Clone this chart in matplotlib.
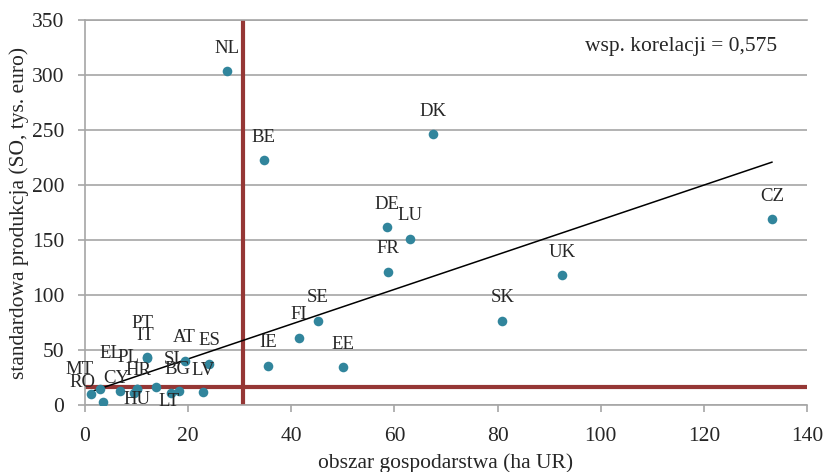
import numpy as np
import matplotlib.pyplot as plt

# ======================
# DATA
# ======================
countries = ["NL", "DK", "BE", "DE", "LU", "FR", "CZ", "UK", "SK", "SE", "FI", "IE", "EE",
             "MT", "RO", "CY", "EL", "HR", "PL", "HU", "PT", "IT", "SI", "AT", "ES", "BG", "LT", "LV"]
area = [27.5, 67.5, 34.7, 58.6, 63.0, 58.8, 133.2, 92.5, 80.9, 45.2, 41.5, 35.5, 50.0,
        1.1, 3.4, 3.0, 6.7, 10.1, 10.0, 9.5, 12.0, 12.0, 13.8, 19.3, 24.1, 18.2, 16.6, 22.9]
output = [303.6, 246.0, 222.7, 161.8, 151.0, 121.0, 169.0, 118.0, 76.4, 76.4, 61.0, 35.5, 34.5,
          10.0, 3.0, 14.3, 12.4, 14.5, 15.0, 10.6, 43.5, 43.0, 16.0, 40.3, 37.3, 13.0, 10.6, 11.5]

MEAN_AREA = 30.6
MEAN_OUTPUT = 16.4
# linear trend as shown on the chart
TREND_SLOPE = 1.58
TREND_INTERCEPT = 10.3
CORR_TEXT = "wsp. korelacji = 0,575"

# label offsets in pixels (dx, dy) relative to each point
label_offsets = {
    "MT": (-11, 24), "RO": (-20, 19), "CY": (16, 11), "EL": (-9, 38), "HR": (1, 19),
    "PL": (-8, 31), "HU": (3, -6), "PT": (-4, 34), "IT": (-2, 22), "SI": (16, 28),
    "BG": (-1, 21), "LT": (-2, -8), "LV": (0, 22),
}

TEAL = "#31859C"
RED = "#953735"
GRID = "#A6A6A6"
TXT = "#262626"

plt.rcParams["font.family"] = ["Liberation Serif", "DejaVu Serif"]

fig = plt.figure(figsize=(8.26, 4.72), dpi=100)
ax = fig.add_axes([85 / 826, 67 / 472, 722 / 826, 385 / 472])

ax.set_xlim(0, 140)
ax.set_ylim(0, 350)
ax.set_xticks(np.arange(0, 141, 20))
ax.set_yticks(np.arange(0, 351, 50))
ax.yaxis.grid(True, color=GRID, linewidth=1.2)
ax.set_axisbelow(True)
ax.spines["right"].set_visible(False)
for s in ["top", "left", "bottom"]:
    ax.spines[s].set_color(GRID)
    ax.spines[s].set_linewidth(1.2)
ax.tick_params(axis="both", colors=GRID, labelcolor=TXT, labelsize=15.5, length=5, width=1.2)
ax.tick_params(axis="x", pad=11)
ax.tick_params(axis="y", pad=10)

# mean lines
ax.axvline(MEAN_AREA, color=RED, linewidth=3, zorder=2)
ax.axhline(MEAN_OUTPUT, color=RED, linewidth=3, zorder=2)

# trend line
xs = np.array([min(area), max(area)])
ax.plot(xs, TREND_SLOPE * xs + TREND_INTERCEPT, color="black", linewidth=1.1, zorder=3)

ax.scatter(area, output, s=48, color=TEAL, zorder=4, linewidths=0)

for c, x, y in zip(countries, area, output):
    dx, dy = label_offsets.get(c, (0, 23))
    ax.annotate(c, (x, y), xytext=(dx, dy), textcoords="offset pixels",
                ha="center", va="center", fontsize=13.5, color=TXT, zorder=5)

ax.text(0.825, 0.93, CORR_TEXT, transform=ax.transAxes, ha="center", va="center",
        fontsize=15.5, color=TXT)

ax.set_xlabel("obszar gospodarstwa (ha UR)", fontsize=15.5, color=TXT, labelpad=5)
ax.set_ylabel("standardowa produkcja (SO, tys. euro)", fontsize=15.5, color=TXT, labelpad=2)

fig.savefig("out.png", dpi=100)
